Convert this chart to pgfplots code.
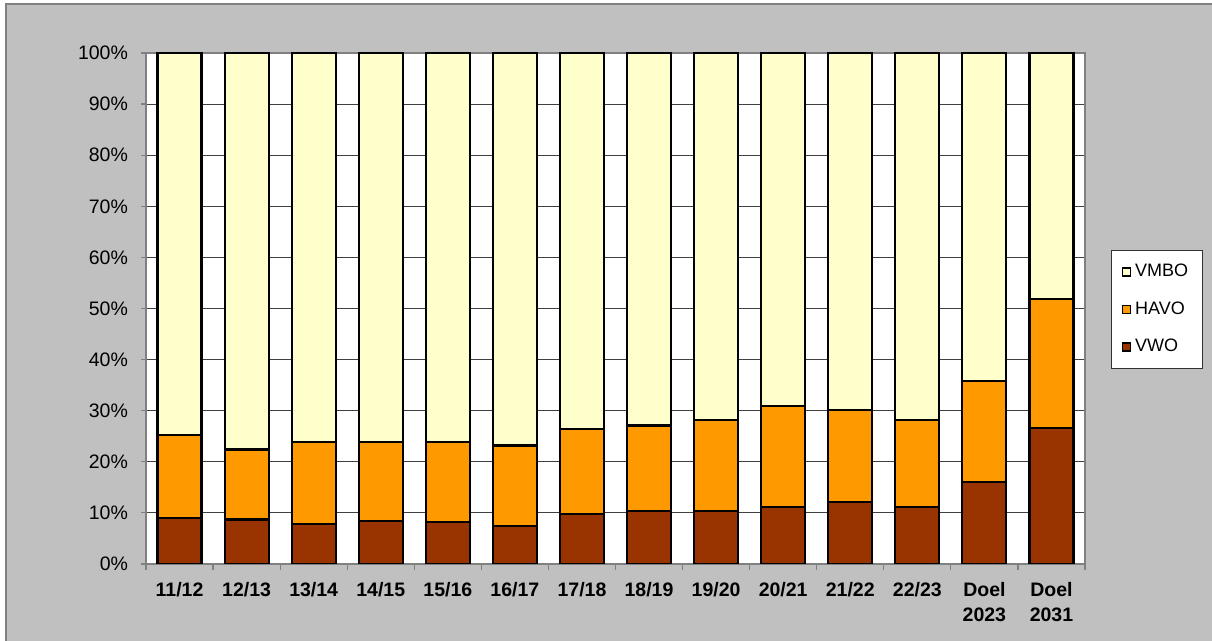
\documentclass[border=0pt]{standalone}
\usepackage{pgfplots}
\pgfplotsset{compat=1.18}
\usepackage{fontspec}
\setmainfont{Liberation Sans}
\definecolor{vmbo}{HTML}{FFFFCC}
\definecolor{havo}{HTML}{FF9900}
\definecolor{vwo}{HTML}{993300}
\definecolor{bg}{HTML}{C0C0C0}
\definecolor{frame}{HTML}{808080}

\begin{document}
\begin{tikzpicture}
\useasboundingbox (0,0) rectangle (606pt,320.5pt);
\fill[white] (0,0) rectangle (606pt,320.5pt);
\filldraw[fill=bg, draw=frame, line width=0.6pt] (3pt,-1pt) rectangle (607pt,318.5pt);
\begin{axis}[
  at={(73pt,38.5pt)}, anchor=south west,
  scale only axis, width=469.5pt, height=255.5pt,
  ybar stacked, bar width=22pt,
  xmin=-0.5, xmax=13.5, ymin=0, ymax=100,
  axis background/.style={fill=white},
  axis line style={frame, line width=0.6pt},
  xtick={0,...,13},
  xticklabels={11/12,12/13,13/14,14/15,15/16,16/17,17/18,18/19,19/20,20/21,21/22,22/23,{Doel\\2023},{Doel\\2031}},
  minor xtick={-0.5,0.5,...,13.5},
  major x tick style={draw=none},
  minor x tick style={draw=frame, line width=0.6pt},
  ytick={0,10,...,100},
  yticklabels={0\%,10\%,20\%,30\%,40\%,50\%,60\%,70\%,80\%,90\%,100\%},
  y tick style={draw=frame, line width=0.6pt},
  tick align=outside, major tick length=2.5pt, minor tick length=3pt,
  xtick pos=bottom, ytick pos=left,
  ymajorgrids, grid style={black!75, line width=0.5pt},
  ticklabel style={font=\fontsize{9.75}{12.5}\selectfont},
  x tick label style={font=\fontsize{9.75}{12.5}\selectfont\bfseries, align=center, yshift=-3pt},
  y tick label style={xshift=-3pt},
  every axis plot/.append style={draw=black, line width=1.1pt},
  legend style={at={(1.0277,0.498)}, anchor=west, draw=black!80, line width=0.5pt, fill=white,
    font=\fontsize{9}{11}\selectfont, row sep=7pt, inner xsep=5pt, inner ysep=5pt,
    cells={anchor=west}},
  reverse legend,
  legend image code/.code={\draw[#1, draw=black, line width=0.8pt] (1pt,-2pt) rectangle (5pt,2pt);},
]
\addplot[fill=vwo] coordinates {(0,9.0)(1,8.7)(2,7.8)(3,8.4)(4,8.2)(5,7.5)(6,9.8)(7,10.4)(8,10.4)(9,11.1)(10,12.2)(11,11.2)(12,16.0)(13,26.6)};
\addlegendentry{VWO}
\addplot[fill=havo] coordinates {(0,16.2)(1,13.7)(2,16.1)(3,15.5)(4,15.7)(5,15.7)(6,16.6)(7,16.7)(8,17.8)(9,19.8)(10,17.9)(11,16.9)(12,19.8)(13,25.3)};
\addlegendentry{HAVO}
\addplot[fill=vmbo] coordinates {(0,74.8)(1,77.6)(2,76.1)(3,76.1)(4,76.1)(5,76.8)(6,73.6)(7,72.9)(8,71.8)(9,69.1)(10,69.9)(11,71.9)(12,64.2)(13,48.1)};
\addlegendentry{VMBO}
\end{axis}
\end{tikzpicture}
\end{document}
